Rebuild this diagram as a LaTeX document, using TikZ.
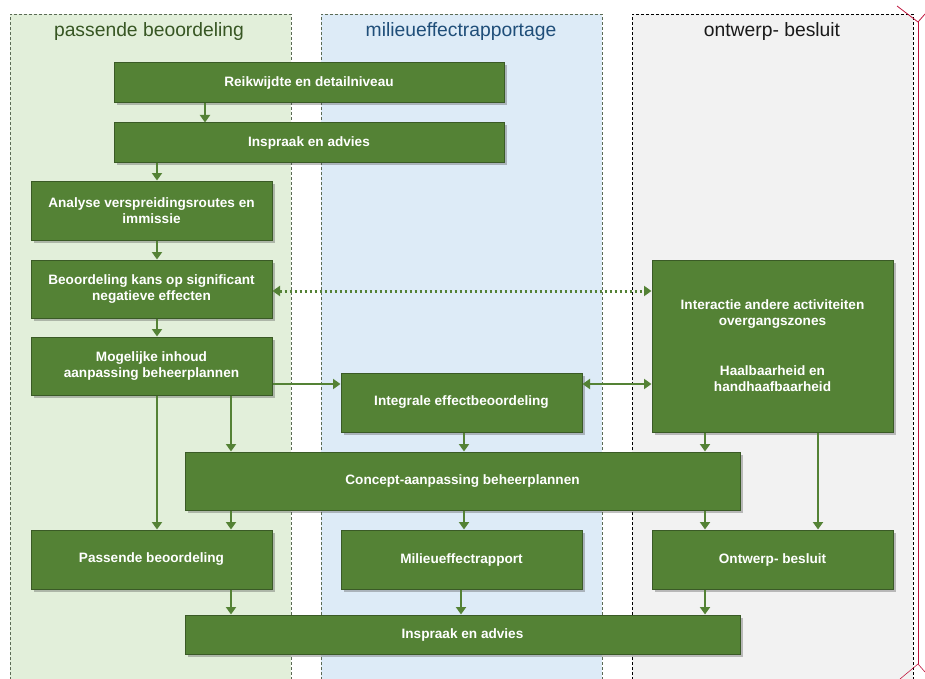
\documentclass[tikz,border=0pt]{standalone}
\usepackage{fontspec}
\setmainfont{Liberation Sans}
\usetikzlibrary{arrows.meta,shadows,calc}
\definecolor{laneA}{HTML}{E2EFDA}
\definecolor{laneB}{HTML}{DDEBF7}
\definecolor{laneC}{HTML}{F2F2F2}
\definecolor{laneborder}{HTML}{5B6B55}
\definecolor{boxfill}{HTML}{548235}
\definecolor{boxborder}{HTML}{3A5A26}
\definecolor{titleA}{HTML}{375623}
\definecolor{titleB}{HTML}{1F4E79}
\definecolor{titleC}{HTML}{1A1A1A}
\definecolor{cropred}{HTML}{C0143C}
\begin{document}
\begin{tikzpicture}[x=1pt,y=-1pt,
  lane/.style={dashed,line width=0.7pt,dash pattern=on 3pt off 2pt},
  lanetitle/.style={font=\fontsize{19.3}{22}\selectfont,anchor=center},
  stepbox/.style={draw=boxborder,fill=boxfill,line width=1pt,inner sep=2pt,
    text=white,align=center,font=\bfseries\fontsize{13.6}{16}\selectfont,
    drop shadow={shadow xshift=2.5pt,shadow yshift=-2.5pt,opacity=0.35,fill=black!70}},
  arr/.style={draw=boxfill,line width=2.8pt,-{Triangle[width=10pt,length=7.5pt]}},
  darr/.style={draw=boxfill,line width=2.8pt,{Triangle[width=10pt,length=7.5pt]}-{Triangle[width=10pt,length=7.5pt]}},
  dotarr/.style={draw=boxfill,line width=3pt,dash pattern=on 2.5pt off 2.5pt,
    {Triangle[width=10pt,length=7.5pt]}-{Triangle[width=10pt,length=7.5pt]}}
]
\useasboundingbox (0,0) rectangle (925,679);
\fill[white] (0,0) rectangle (925,679);
% lanes
\fill[laneA] (10,14) rectangle (291,690);
\draw[lane,draw=laneborder] (10,690) -- (10,14) -- (291,14) -- (291,690);
\fill[laneB] (321,14) rectangle (602,690);
\draw[lane,draw=laneborder] (321,690) -- (321,14) -- (602,14) -- (602,690);
\fill[laneC] (632,14) rectangle (913,690);
\draw[lane,draw=black] (632,690) -- (632,14) -- (913,14) -- (913,690);
\node[lanetitle,text=titleA] (tA) at (149,32) {passende beoordeling};
\node[lanetitle,text=titleB] (tB) at (461,32) {milieueffectrapportage};
\node[lanetitle,text=titleC] (tC) at (772,32) {ontwerp- besluit};
% crop marks
\draw[cropred,line width=0.8pt] (897,6) -- (918,22) -- (925,14);
\draw[cropred,line width=0.8pt] (918,22) -- (918,664);
\draw[cropred,line width=0.6pt] (900,679) -- (918,664) -- (925,672);
% boxes
\node[stepbox,minimum width=390pt,minimum height=40pt] (b1) at (309,83) {Reikwijdte en detailniveau};
\node[stepbox,minimum width=390pt,minimum height=40pt] (b2) at (309,143) {Inspraak en advies};
\node[stepbox,minimum width=241pt,minimum height=59pt] (b3) at (151.5,210.5) {Analyse verspreidingsroutes en\\immissie};
\node[stepbox,minimum width=241pt,minimum height=58pt] (b4) at (151.5,289) {Beoordeling kans op significant\\negatieve effecten};
\node[stepbox,minimum width=241pt,minimum height=58pt] (b5) at (151.5,366) {Mogelijke inhoud\\aanpassing beheerplannen};
\node[stepbox,minimum width=241pt,minimum height=59pt] (b6) at (461.5,402.5) {Integrale effectbeoordeling};
\node[stepbox,minimum width=241pt,minimum height=172pt] (b7) at (772.5,346) {Interactie andere activiteiten\\overgangszones\\[34pt]Haalbaarheid en\\handhaafbaarheid};
\node[stepbox,minimum width=555pt,minimum height=58pt] (b8) at (462.5,481) {Concept-aanpassing beheerplannen};
\node[stepbox,minimum width=241pt,minimum height=59pt] (b9) at (151.5,559.5) {Passende beoordeling};
\node[stepbox,minimum width=241pt,minimum height=59pt] (b10) at (461.5,559.5) {Milieueffectrapport};
\node[stepbox,minimum width=241pt,minimum height=59pt] (b11) at (772.5,559.5) {Ontwerp- besluit};
\node[stepbox,minimum width=555pt,minimum height=39pt] (b12) at (462.5,634.5) {Inspraak en advies};
% connectors
\coordinate (xA) at (157,0);
\coordinate (xB) at (205,0);
\coordinate (xC) at (231,0);
\coordinate (xD) at (464,0);
\coordinate (xE) at (461,0);
\coordinate (xF) at (705,0);
\coordinate (xG) at (818,0);
\coordinate (yA) at (0,291);
\coordinate (yB) at (0,384);
\draw[arr] (b1.south -| xB) -- (b2.north -| xB);
\draw[arr] (b2.south -| xA) -- (b3.north -| xA);
\draw[arr] (b3.south -| xA) -- (b4.north -| xA);
\draw[arr] (b4.south -| xA) -- (b5.north -| xA);
\draw[dotarr] (b4.east |- yA) -- (b7.west |- yA);
\draw[arr] (b5.east |- yB) -- (b6.west |- yB);
\draw[darr] (b6.east |- yB) -- (b7.west |- yB);
\draw[arr] (b5.south -| xA) -- (b9.north -| xA);
\draw[arr] (b5.south -| xC) -- (b8.north -| xC);
\draw[arr] (b6.south -| xD) -- (b8.north -| xD);
\draw[arr] (b7.south -| xF) -- (b8.north -| xF);
\draw[arr] (b7.south -| xG) -- (b11.north -| xG);
\draw[arr] (b8.south -| xC) -- (b9.north -| xC);
\draw[arr] (b8.south -| xD) -- (b10.north -| xD);
\draw[arr] (b8.south -| xF) -- (b11.north -| xF);
\draw[arr] (b9.south -| xC) -- (b12.north -| xC);
\draw[arr] (b10.south -| xE) -- (b12.north -| xE);
\draw[arr] (b11.south -| xF) -- (b12.north -| xF);
\end{tikzpicture}
\end{document}
